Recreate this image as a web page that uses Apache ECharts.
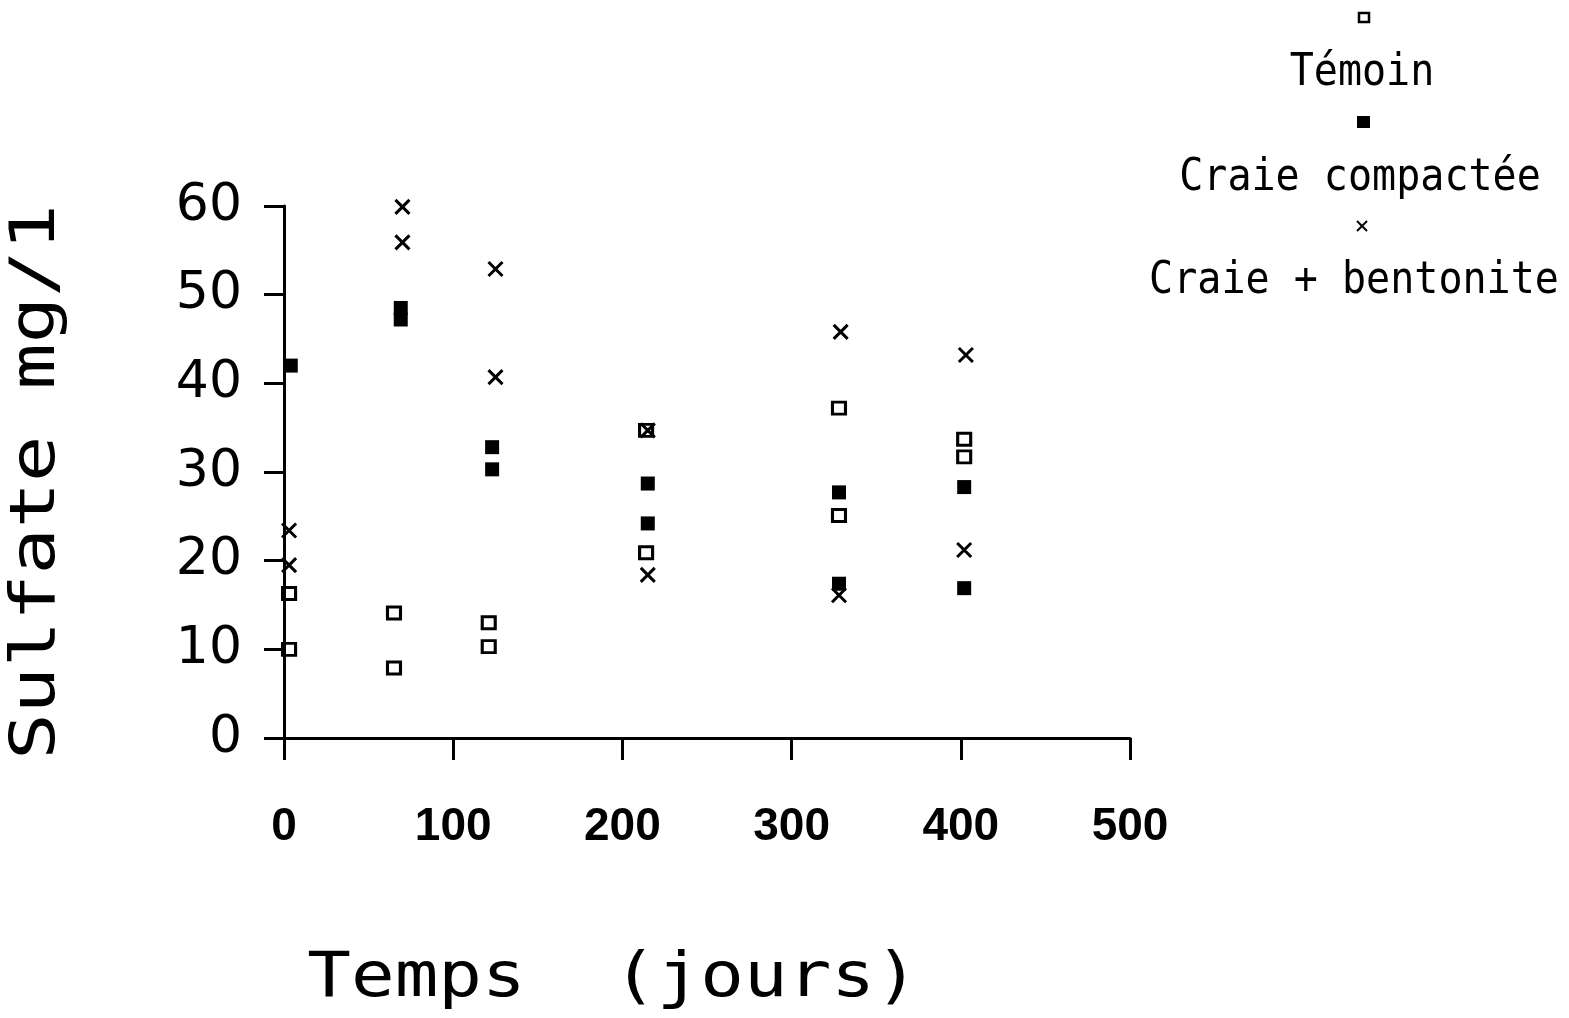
<!DOCTYPE html>
<html>
<head>
<meta charset="utf-8">
<script src="https://cdn.jsdelivr.net/npm/echarts@6/dist/echarts.min.js"></script>
<style>
  html, body { margin: 0; padding: 0; background: #fff; }
  #chart { width: 1569px; height: 1018px; }
</style>
</head>
<body>
<div id="chart"></div>
<script>
// ticks
const xTicks = [0, 100, 200, 300, 400, 500];
const yTicks = [0, 10, 20, 30, 40, 50, 60];

// Témoin (open squares)
const temoinDays = [3, 3, 65, 65, 121, 121, 214, 214, 328, 328, 402, 402];
const temoinVals = [16.3, 10, 14.1, 7.9, 13, 10.3, 34.7, 20.9, 37.2, 25.1, 33.7, 31.7];

// Craie compactée (filled squares)
const compDays = [4, 69, 69, 123, 123, 215, 215, 328, 328, 402, 402];
const compVals = [42, 48.5, 47.2, 32.8, 30.3, 28.7, 24.2, 27.7, 17.4, 28.3, 16.9];

// Craie + bentonite (crosses)
const bentDays = [3, 3, 70, 70, 125, 125, 215, 215, 329, 328, 403, 402];
const bentVals = [23.4, 19.5, 59.9, 55.9, 52.9, 40.7, 34.7, 18.4, 45.8, 16.1, 43.2, 21.2];

const seriesNames = ['Témoin', 'Craie compactée', 'Craie + bentonite'];

function pairs(xs, ys) {
  return xs.map((x, i) => [x, ys[i]]);
}

const CROSS = 'path://M0,0L10,10M10,0L0,10';
const monoFont = '"DejaVu Sans Mono", monospace';

let myChart = echarts.init(document.getElementById('chart'));

let option = {
  backgroundColor: '#fff',
  animation: false,
  grid: {
    left: 284,
    right: 439,
    top: 206,
    bottom: 280,
    containLabel: false,
    outerBoundsMode: 'none'
  },
  xAxis: {
    type: 'value',
    min: xTicks[0],
    max: xTicks[xTicks.length - 1],
    interval: 100,
    splitLine: { show: false },
    axisLine: { show: true, onZero: false, lineStyle: { color: '#000', width: 3 } },
    axisTick: { show: true, length: 22, lineStyle: { color: '#000', width: 3 } },
    axisLabel: {
      margin: 66,
      color: '#000',
      fontFamily: '"Liberation Sans", sans-serif',
      fontWeight: 'bold',
      fontSize: 46,
      formatter: v => String(v)
    }
  },
  yAxis: {
    type: 'value',
    min: yTicks[0],
    max: yTicks[yTicks.length - 1],
    interval: 10,
    splitLine: { show: false },
    axisLine: { show: true, onZero: false, lineStyle: { color: '#000', width: 3 } },
    axisTick: { show: true, length: 20, lineStyle: { color: '#000', width: 3 } },
    axisLabel: {
      margin: 42,
      color: '#000',
      fontFamily: '"DejaVu Sans", sans-serif',
      fontSize: 52,
      formatter: v => String(v)
    }
  },
  graphic: [
    // axis titles
    {
      type: 'text', x: 613, y: 980, scaleX: 1.17,
      style: { text: 'Temps  (jours)', font: '62px ' + monoFont, fill: '#000', textAlign: 'center', textVerticalAlign: 'middle' }
    },
    {
      type: 'text', x: 38, y: 482, rotation: Math.PI / 2, scaleX: 1.24,
      style: { text: 'Sulfate mg/1', font: '62px ' + monoFont, fill: '#000', textAlign: 'center', textVerticalAlign: 'middle' }
    },
    // legend
    { type: 'rect', shape: { x: 1359, y: 13, width: 10, height: 9 }, style: { fill: 'none', stroke: '#000', lineWidth: 2.5 } },
    {
      type: 'text', x: 1362, y: 73, scaleX: 0.89,
      style: { text: seriesNames[0], font: '45px ' + monoFont, fill: '#000', textAlign: 'center', textVerticalAlign: 'middle' }
    },
    { type: 'rect', shape: { x: 1357, y: 116, width: 13, height: 12 }, style: { fill: '#000' } },
    {
      type: 'text', x: 1360, y: 178, scaleX: 0.89,
      style: { text: seriesNames[1], font: '45px ' + monoFont, fill: '#000', textAlign: 'center', textVerticalAlign: 'middle' }
    },
    { type: 'line', shape: { x1: 1357, y1: 221, x2: 1367, y2: 231 }, style: { stroke: '#000', lineWidth: 2 } },
    { type: 'line', shape: { x1: 1367, y1: 221, x2: 1357, y2: 231 }, style: { stroke: '#000', lineWidth: 2 } },
    {
      type: 'text', x: 1354, y: 281, scaleX: 0.89,
      style: { text: seriesNames[2], font: '45px ' + monoFont, fill: '#000', textAlign: 'center', textVerticalAlign: 'middle' }
    }
  ],
  series: [
    {
      name: seriesNames[2],
      type: 'scatter',
      data: pairs(bentDays, bentVals),
      symbol: CROSS,
      symbolSize: 14,
      itemStyle: { color: 'transparent', borderColor: '#000', borderWidth: 3, opacity: 1 }
    },
    {
      name: seriesNames[1],
      type: 'scatter',
      data: pairs(compDays, compVals),
      symbol: 'rect',
      symbolSize: 14,
      itemStyle: { color: '#000', opacity: 1 }
    },
    {
      name: seriesNames[0],
      type: 'scatter',
      data: pairs(temoinDays, temoinVals),
      symbol: 'rect',
      symbolSize: [13, 12],
      itemStyle: { color: 'transparent', borderColor: '#000', borderWidth: 3, opacity: 1 }
    }
  ]
};

myChart.setOption(option);
</script>
</body>
</html>
